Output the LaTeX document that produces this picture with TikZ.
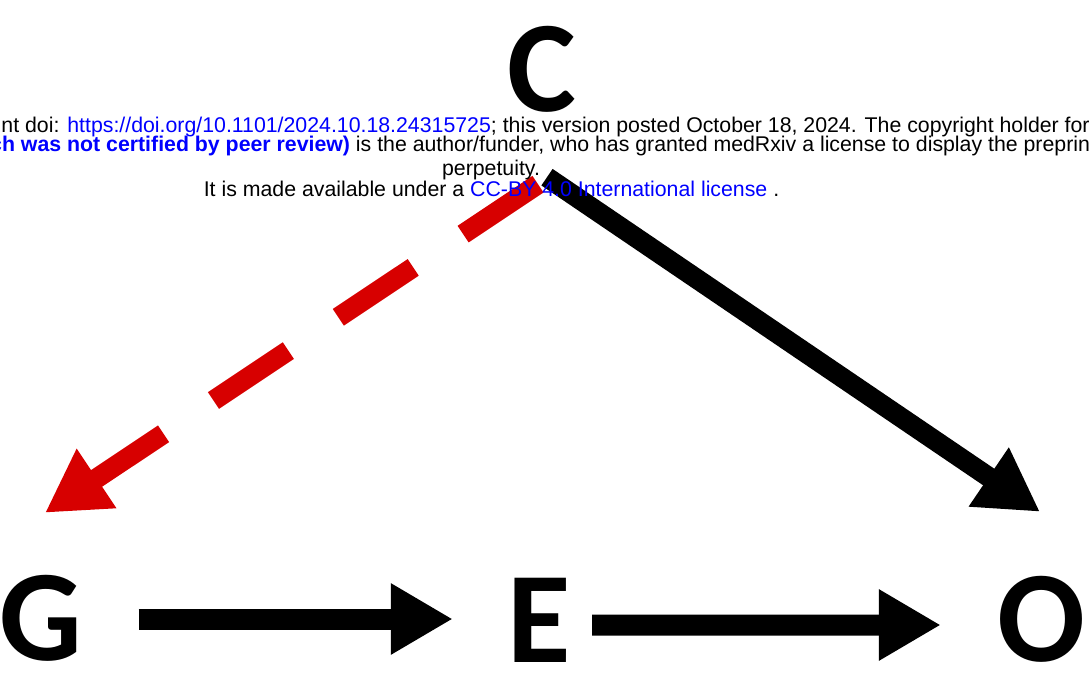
\documentclass[tikz,border=0pt]{standalone}
\usepackage{fontspec}
\setmainfont{Liberation Sans}
\newfontfamily\carlito{Carlito}
\usetikzlibrary{arrows.meta}
\definecolor{dagred}{RGB}{215,0,0}
\definecolor{linkblue}{RGB}{0,0,255}
\begin{document}
\begin{tikzpicture}[x=1bp,y=-1bp,
  letter/.style={inner sep=0pt, minimum width=80bp, minimum height=90bp,
    font=\carlito\bfseries\fontsize{130bp}{130bp}\selectfont},
  conn/.style={draw=black, line width=21bp, -{Triangle[length=62bp,width=67bp]}},
  dagconn/.style={conn, draw=dagred, line width=20bp, dash pattern=on 90bp off 60bp},
  header/.style={inner sep=0pt, font=\fontsize{21.3bp}{25bp}\selectfont}
]
\useasboundingbox (0,0) rectangle (1090,685);
% variable nodes
\node[letter] (C) at (542,69) {C};
\node[letter] (G) at (41,618) {G};
\node[letter] (E) at (539,620) {E};
\node[letter] (O) at (1041,619) {O};
% connectors
\draw[conn, shorten <=56bp, shorten >=46bp] ([yshift=-1bp]G.east) -- ([yshift=1bp]E.west);
\draw[conn, shorten <=13bp, shorten >=56bp] ([yshift=-5bp]E.east) -- ([yshift=-6bp]O.west);
\draw[conn, line width=20bp] ([xshift=5bp,yshift=-63bp]C.south) -- ([xshift=-1bp,yshift=62bp]O.north);
\draw[dagconn] ([xshift=-4bp,yshift=-70bp]C.south) -- ([xshift=4bp,yshift=60bp]G.north);
% watermark text
\node[header, anchor=base west] (h1) at (-3.5,132.5)
  {int doi: {\color{linkblue}https://doi.org/10.1101/2024.10.18.24315725}; this version posted October 18, 2024. The copyright holder for};
\node[header, anchor=base west] (h2) at (-10,152)
  {{\bfseries\color{linkblue}ch was not certified by peer review)} is the author/funder, who has granted medRxiv a license to display the preprin};
\node[header, anchor=base] (h3) at (491,175.5) {perpetuity.};
\node[header, anchor=base] (h4) at (491.5,197)
  {It is made available under a {\color{linkblue}CC-BY 4.0 International license} .};
\end{tikzpicture}
\end{document}
